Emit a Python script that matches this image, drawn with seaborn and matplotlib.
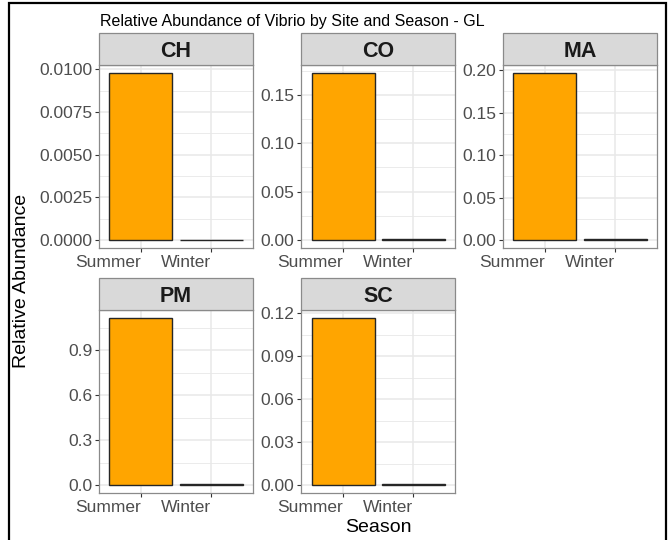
import matplotlib
matplotlib.use("Agg")
import matplotlib.pyplot as plt
from matplotlib.patches import Rectangle
from matplotlib.ticker import FixedLocator, FixedFormatter
import pandas as pd
import seaborn as sns

# Data
sites = ["CH", "CO", "MA", "PM", "SC"]
seasons = ["Summer", "Winter"]
summer_abundance = [0.00977, 0.1724, 0.1962, 1.114, 0.1165]
winter_abundance = [0.00001, 0.0008, 0.0008, 0.004, 0.0006]

y_ticks = {
    "CH": [0.0, 0.0025, 0.0050, 0.0075, 0.0100],
    "CO": [0.00, 0.05, 0.10, 0.15],
    "MA": [0.00, 0.05, 0.10, 0.15, 0.20],
    "PM": [0.0, 0.3, 0.6, 0.9],
    "SC": [0.00, 0.03, 0.06, 0.09, 0.12],
}
y_decimals = {"CH": 4, "CO": 2, "MA": 2, "PM": 1, "SC": 2}

df = pd.DataFrame({
    "Site": sites * 2,
    "Season": ["Summer"] * len(sites) + ["Winter"] * len(sites),
    "Abundance": summer_abundance + winter_abundance,
})

sns.set_theme(style="white")
plt.rcParams["font.family"] = ["Liberation Sans", "DejaVu Sans"]

W, H = 669, 540
fig = plt.figure(figsize=(W / 100, H / 100), dpi=100)
fig.patch.set_facecolor("white")

# panel boxes in pixels: (left, top, right, bottom)
col_x = [(98.7, 253.3), (301.0, 455.0), (502.7, 657.3)]
row_y = [(65.0, 248.3), (310.0, 493.3)]
strip_h = 32.0

grid_col = "#E8E8E8"
border_col = "#8A8A8A"
tick_col = "#4D4D4D"

for i, site in enumerate(sites):
    r, c = divmod(i, 3)
    x0, x1 = col_x[c]
    y0, y1 = row_y[r]
    ax = fig.add_axes([x0 / W, 1 - y1 / H, (x1 - x0) / W, (y1 - y0) / H])
    sub = df[df["Site"] == site]
    sns.barplot(data=sub, x="Season", y="Abundance", order=seasons,
                color="#FFA500", saturation=1, edgecolor="#262626",
                linewidth=1.0, width=0.9, errorbar=None, ax=ax, zorder=3)
    vmax = sub["Abundance"].max()
    ax.set_ylim(-0.05 * vmax, 1.05 * vmax)
    ax.set_xlim(-0.6, 1.6)
    ax.set_xlabel("")
    ax.set_ylabel("")

    # grid: major + minor lines, ggplot style
    ticks = y_ticks[site]
    step = ticks[1] - ticks[0]
    minors = [t + step / 2 for t in [ticks[0] - step] + ticks]
    ax.set_axisbelow(True)
    for t in ticks:
        ax.axhline(t, color=grid_col, lw=1.1, zorder=0)
    for t in minors:
        ax.axhline(t, color=grid_col, lw=0.6, zorder=0)
    for xv in (0, 1):
        ax.axvline(xv, color=grid_col, lw=1.1, zorder=0)

    ax.yaxis.set_major_locator(FixedLocator(ticks))
    ax.yaxis.set_major_formatter(FixedFormatter([f"{t:.{y_decimals[site]}f}" for t in ticks]))
    ax.set_xticks([0, 1])
    ax.set_xticklabels(seasons, ha="right")
    ax.tick_params(axis="both", which="major", length=3.2, width=0.8,
                   color="#333333", labelsize=12.5, labelcolor=tick_col,
                   left=True, bottom=True, pad=1.5)
    for sp in ax.spines.values():
        sp.set_visible(True)
        sp.set_color(border_col)
        sp.set_linewidth(0.9)

    # facet strip
    sh = strip_h / (y1 - y0)
    ax.add_patch(Rectangle((0, 1), 1, sh, transform=ax.transAxes,
                           facecolor="#D9D9D9", edgecolor=border_col,
                           linewidth=0.9, clip_on=False, zorder=5))
    ax.text(0.5, 1 + sh / 2, site, transform=ax.transAxes, ha="center",
            va="center_baseline", fontsize=15.5, fontweight="bold",
            color="#1A1A1A", zorder=6)

fig.text(100 / W, 1 - 26 / H, "Relative Abundance of Vibrio by Site and Season - GL",
         ha="left", va="baseline", fontsize=11.5, color="black")
fig.text(22 / W, 1 - 281 / H, "Relative Abundance", rotation=90,
         ha="center", va="center", fontsize=14, color="black")
fig.text(378 / W, 1 - 528 / H, "Season", ha="center", va="center",
         fontsize=14, color="black")

# outer frame
fig.add_artist(Rectangle((8.5 / W, -0.2), (666 - 8.5) / W, 1.2 - 3.3 / H,
                         transform=fig.transFigure, facecolor="none",
                         edgecolor="black", linewidth=1.6, clip_on=False))

fig.savefig("out.png", dpi=100)
